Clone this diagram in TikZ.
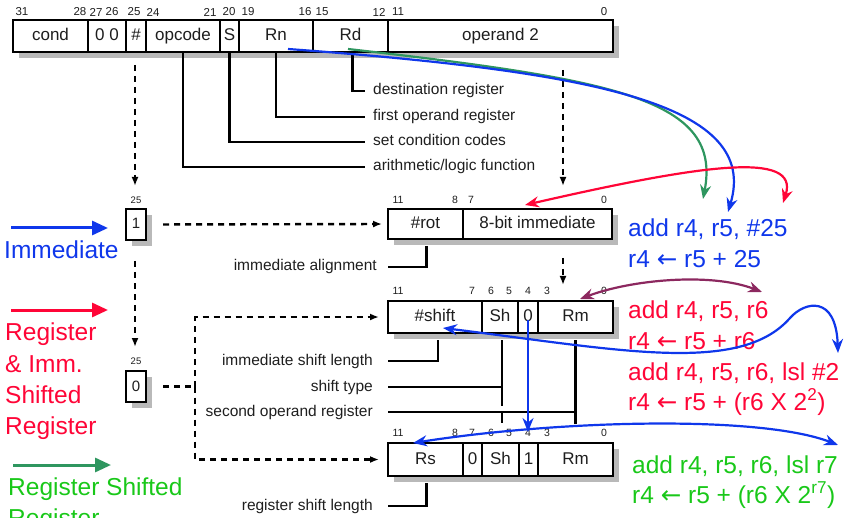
\documentclass[tikz,border=0pt]{standalone}
\usepackage{fontspec}
\setmainfont{Liberation Sans}
\newfontfamily\symfont{DejaVu Sans}
\usetikzlibrary{arrows.meta,calc}
\definecolor{ink}{RGB}{30,30,30}
\definecolor{cblue}{RGB}{15,55,235}
\definecolor{cred}{RGB}{255,5,55}
\definecolor{cgreen}{RGB}{25,200,25}
\definecolor{cseagreen}{RGB}{46,150,95}
\definecolor{cplum}{RGB}{140,40,95}
\definecolor{shadowgray}{RGB}{185,185,185}
\begin{document}
\begin{tikzpicture}[x=1pt,y=-1pt,
  fld/.style={draw=black, fill=white, line width=2.4pt, anchor=north west, inner sep=0pt, outer sep=0pt,
    text height=12pt, text depth=3pt, font=\fontsize{17}{17}\selectfont, text=ink},
  bitbox/.style={fld, minimum width=20pt, minimum height=31pt, font=\fontsize{15}{15}\selectfont},
  shadowfill/.style={fill=shadowgray},
  bitn/.style={inner sep=0pt, font=\fontsize{11.5}{11.5}\selectfont, text=ink},
  bitsm/.style={inner sep=0pt, font=\fontsize{10.5}{10.5}\selectfont, text=ink},
  lbl/.style={inner sep=0pt, text height=11pt, text depth=3pt, font=\fontsize{15.5}{15.5}\selectfont, text=ink},
  lead/.style={line width=2.4pt, black},
  dasharrow/.style={line width=2.4pt, dash pattern=on 6pt off 5pt, -{Latex[length=9pt,width=7pt]}},
  dashline/.style={line width=2.4pt, dash pattern=on 6pt off 5pt},
  legarrow/.style={line width=3pt, -{Triangle[length=16pt,width=14pt]}},
  big/.style={inner sep=0pt, anchor=base west, font=\fontsize{24.5}{24.5}\selectfont},
  carrow/.style={line width=2.2pt, -{Stealth[length=14pt,width=11pt]}},
  cdarrow/.style={line width=2.2pt, {Stealth[length=14pt,width=11pt]}-{Stealth[length=14pt,width=11pt]}}
]
\useasboundingbox (0,0) rectangle (850,518);

% ---------- instruction word ----------
\fill[shadowfill] (19,26) rectangle (619,58);
\node[fld, minimum width=75pt, minimum height=32pt] (cond) at (13,20) {cond};
\node[fld, minimum width=38pt, minimum height=32pt] (zz) at (88,20) {0 0};
\node[fld, minimum width=20pt, minimum height=32pt] (hsh) at (126,20) {\#};
\node[fld, minimum width=74pt, minimum height=32pt] (opc) at (146,20) {opcode};
\node[fld, minimum width=19pt, minimum height=32pt] (sb) at (220,20) {S};
\node[fld, minimum width=74pt, minimum height=32pt] (rn) at (239,20) {Rn};
\node[fld, minimum width=75pt, minimum height=32pt] (rd) at (313,20) {Rd};
\node[fld, minimum width=225pt, minimum height=32pt] (op2) at (388,20) {operand 2};

\foreach \x/\t [count=\i] in {22/31,80/28,96/27,112/26,134/25,153/24,210/21,229/20,248/19,305/16,322/15,379/12,398/11,604/0}
  \node[bitn] (tb\i) at (\x,12) {\t};

% field descriptions
\node[lbl, anchor=west] (Ldst) at (373,91) {destination register};
\node[lbl, anchor=west] (Lfirst) at (373,117) {first operand register};
\node[lbl, anchor=west] (Lset) at (373,142) {set condition codes};
\node[lbl, anchor=west] (Lalu) at (373,167) {arithmetic/logic function};
\draw[lead] ([xshift=2pt]rd.south) |- ([xshift=-8pt]Ldst.west);
\draw[lead] (rn.south) |- ([xshift=-8pt]Lfirst.west);
\draw[lead] (sb.south) |- ([xshift=-8pt]Lset.west);
\draw[lead] (opc.south) |- ([xshift=-8pt]Lalu.west);

% ---------- bit 25 boxes ----------
\fill[shadowfill] (132,215) rectangle (152,246);
\node[bitbox] (one) at (126,209) {1};
\node[bitsm, font=\fontsize{9.5}{9.5}\selectfont] (one25) at (136,200) {25};
\fill[shadowfill] (132,377) rectangle (152,408);
\node[bitbox] (zero) at (126,371) {0};
\node[bitsm, font=\fontsize{9.5}{9.5}\selectfont] (zero25) at (136,361) {25};

% ---------- immediate operand ----------
\fill[shadowfill] (394,215) rectangle (618,245);
\node[fld, minimum width=75pt, minimum height=30pt] (rot) at (388,209) {\#rot};
\node[fld, minimum width=149pt, minimum height=30pt] (imm8) at (463,209) {8-bit immediate};
\foreach \x/\t [count=\i] in {398/11,455/8,471/7,604/0}
  \node[bitsm] (ib\i) at (\x,200) {\t};
\node[lbl, anchor=east] (Lalign) at (377,267) {immediate alignment};
\draw[lead] ($(rot.south)+(1,7)$) |- ([xshift=11pt]Lalign.east);

% ---------- register shifted by immediate ----------
\fill[shadowfill] (394,307) rectangle (619,339);
\node[fld, minimum width=94pt, minimum height=32pt] (shamt) at (388,301) {\#shift};
\node[fld, minimum width=36pt, minimum height=32pt] (sh) at (482,301) {Sh};
\node[fld, minimum width=20pt, minimum height=32pt] (zb) at (518,301) {0};
\node[fld, minimum width=75pt, minimum height=32pt] (rma) at (538,301) {Rm};
\foreach \x/\t [count=\i] in {398/11,472/7,491/6,509/5,528/4,547/3,604/0}
  \node[bitsm] (sbn\i) at (\x,291) {\t};

\node[lbl, anchor=east] (Lisl) at (373,361) {immediate shift length};
\node[lbl, anchor=east] (Ltype) at (373,387) {shift type};
\node[lbl, anchor=east] (Lrm) at (373,412) {second operand register};
\draw[lead] ($(shamt.south)+(3,7)$) |- ([xshift=15pt]Lisl.east);
\draw[lead] ($(sh.south)+(2,7)$) -- ($(sh.south)+(2,73)$);
\draw[lead] ($(sh.south)+(2,80)$) -- ($(sh.south)+(2,90)$);
\draw[lead] ([xshift=15pt]Ltype.east) -- ($(sh.south |- Ltype.east)+(3.2,0)$);
\draw[lead] ($(rma.south)+(0,7)$) -- ($(rma.south)+(0,91)$);
\draw[lead] ([xshift=15pt]Lrm.east) -- ($(rma.south |- Lrm.east)+(1.2,0)$);

% ---------- register shifted by register ----------
\fill[shadowfill] (394,449) rectangle (619,482);
\node[fld, minimum width=75pt, minimum height=33pt] (rs) at (388,443) {Rs};
\node[fld, minimum width=19pt, minimum height=33pt] (zc) at (463,443) {0};
\node[fld, minimum width=37pt, minimum height=33pt] (shb) at (482,443) {Sh};
\node[fld, minimum width=19pt, minimum height=33pt] (onec) at (519,443) {1};
\node[fld, minimum width=75pt, minimum height=33pt] (rmb) at (538,443) {Rm};
\foreach \x/\t [count=\i] in {398/11,455/8,472/7,491/6,509/5,528/4,547/3,604/0}
  \node[bitsm] (rbn\i) at (\x,433) {\t};
\node[lbl, anchor=east] (Lrsl) at (373,506) {register shift length};
\draw[lead] ($(rs.south)+(1,7)$) |- ([xshift=15pt]Lrsl.east);

% ---------- decoding flow (dashed) ----------
\coordinate (dTopL) at (135,65);
\coordinate (dTopLend) at (135,186);
\coordinate (dMidL) at (135,261);
\coordinate (dMidLend) at (135,347);
\coordinate (jct) at (195,386.5);
\coordinate (dTopR) at (563,70);
\coordinate (dTopRend) at (563,186);
\coordinate (dMidR) at (563,258);
\coordinate (dMidRend) at (563,285);
\draw[dasharrow] (dTopL) -- (dTopLend);
\draw[dasharrow] (dMidL) -- (dMidLend);
\draw[dasharrow, shorten <=17pt, shorten >=6pt] (one.east) -- (rot.west);
\draw[dashline, shorten <=17pt] (zero.east) -- (jct);
\draw[dasharrow, shorten >=9pt] (jct) |- (shamt.west);
\draw[dasharrow, shorten >=9pt] (jct) |- (rs.west);
\draw[dasharrow] (dTopR) -- (dTopRend);
\draw[dasharrow] (dMidR) -- (dMidRend);

% ---------- legend ----------
\coordinate (lgB0) at (11,228);  \coordinate (lgB1) at (108,228);
\coordinate (lgR0) at (11,310);  \coordinate (lgR1) at (108,310);
\coordinate (lgG0) at (13,465);  \coordinate (lgG1) at (111,465);
\draw[legarrow, cblue] (lgB0) -- (lgB1);
\draw[legarrow, cred] (lgR0) -- (lgR1);
\draw[legarrow, cseagreen] (lgG0) -- (lgG1);
\node[big, text=cblue] (tImm) at (4,259) {Immediate};
\node[big, text=cred] (tR1) at (5,340) {Register};
\node[big, text=cred] (tR2) at (5,372) {\& Imm.};
\node[big, text=cred] (tR3) at (5,403) {Shifted};
\node[big, text=cred] (tR4) at (5,434) {Register};
\node[big, text=cgreen] (tG1) at (8,495) {Register Shifted};
\node[big, text=cgreen] (tG2) at (8,526) {Register};

% ---------- examples ----------
\node[big, text=cblue] (eB1) at (628,237) {add r4, r5, \#25};
\node[big, text=cblue] (eB2) at (628,268) {r4 {\symfont ←} r5 + 25};
\node[big, text=cred] (eR1) at (628,318) {add r4, r5, r6};
\node[big, text=cred] (eR2) at (628,349) {r4 {\symfont ←} r5 + r6};
\node[big, text=cred] (eR3) at (628,380) {add r4, r5, r6, lsl \#2};
\node[big, text=cred] (eR4) at (628,410) {r4 {\symfont ←} r5 + (r6 X 2\textsuperscript{2})};
\node[big, text=cgreen] (eG1) at (632,473) {add r4, r5, r6, lsl r7};
\node[big, text=cgreen] (eG2) at (632,503) {r4 {\symfont ←} r5 + (r6 X 2\textsuperscript{r7})};

% ---------- field mapping arrows ----------
\coordinate (rnTail) at (288,49);
\coordinate (rnHead) at (728,212);
\coordinate (rdTail) at (348,49);
\coordinate (rdHead) at (703,199);
\coordinate (immA) at (525,205);
\coordinate (immB) at (783,203);
\coordinate (rmA) at (580,299);
\coordinate (rmB) at (762,292);
\coordinate (shA) at (443,328);
\coordinate (shM) at (790,318);
\coordinate (shB) at (838,353);
\coordinate (rsA) at (413,443);
\coordinate (rsB) at (838,445);
\coordinate (bitTail) at (528,320);
\coordinate (bitHead) at (528,432);

\draw[carrow, cseagreen] (rdTail) .. controls (620,80) and (722,100) .. (rdHead);
\draw[carrow, cblue] (rnTail) .. controls (600,72) and (760,105) .. (rnHead);
\draw[cdarrow, cred] (immA) .. controls (700,165) and (800,150) .. (immB);
\draw[cdarrow, cplum] (rmA) .. controls (630,280) and (710,272) .. (rmB);
\draw[cdarrow, cblue] (shA) .. controls (620,350) and (740,375) .. (shM)
  .. controls (805,301) and (836,295) .. (shB);
\draw[cdarrow, cblue] (rsA) .. controls (560,420) and (760,415) .. (rsB);
\draw[carrow, cblue] (bitTail) -- (bitHead);
\end{tikzpicture}
\end{document}
